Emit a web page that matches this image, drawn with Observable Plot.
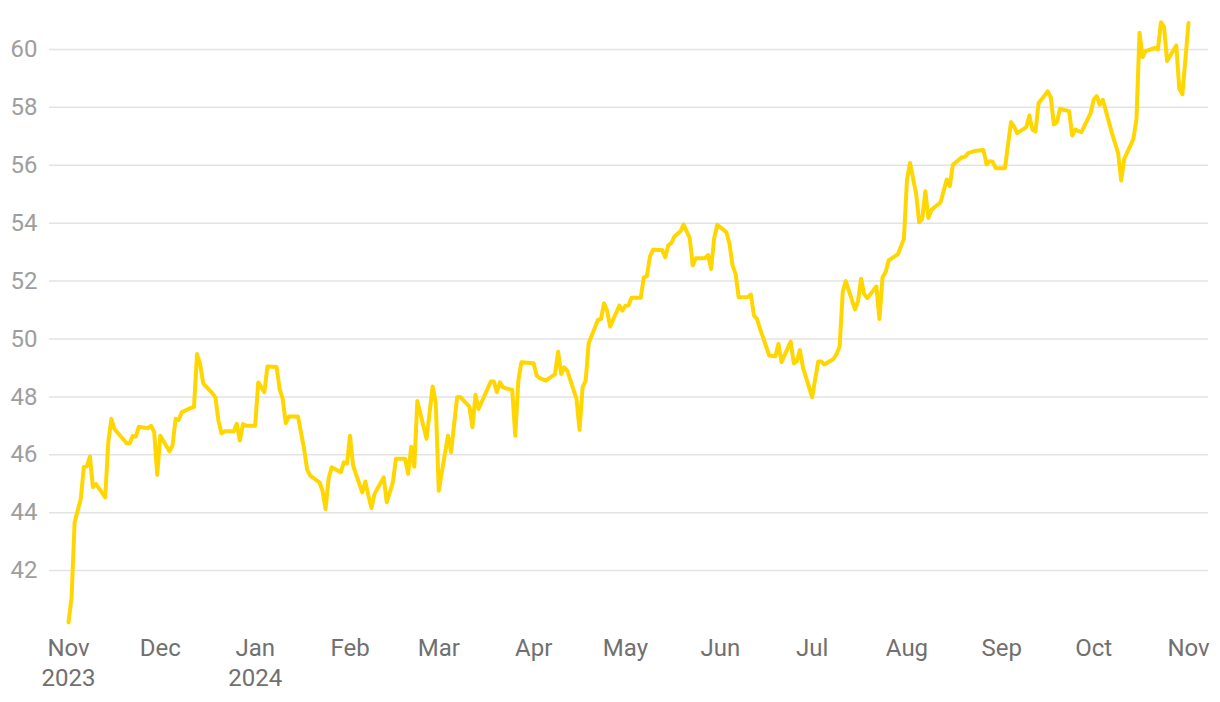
<!DOCTYPE html>
<html>
<head>
<meta charset="utf-8">
<script src="https://cdn.jsdelivr.net/npm/d3@7"></script>
<script src="https://cdn.jsdelivr.net/npm/@observablehq/plot@0.6"></script>
<style>
  html, body { margin: 0; padding: 0; background: #ffffff; }
  #chart { width: 1220px; height: 702px; }
</style>
</head>
<body>
<div id="chart"></div>
<script>
const dates = [
  "2023-11-01","2023-11-02","2023-11-03","2023-11-05","2023-11-06","2023-11-07","2023-11-08","2023-11-09","2023-11-10","2023-11-13",
  "2023-11-14","2023-11-15","2023-11-16","2023-11-20","2023-11-21","2023-11-22","2023-11-23","2023-11-24","2023-11-27","2023-11-28",
  "2023-11-29","2023-11-30","2023-12-01","2023-12-04","2023-12-05","2023-12-06","2023-12-07","2023-12-08","2023-12-11","2023-12-12",
  "2023-12-13","2023-12-14","2023-12-15","2023-12-18","2023-12-19","2023-12-20","2023-12-21","2023-12-22","2023-12-25","2023-12-26",
  "2023-12-27","2023-12-28","2023-12-29","2024-01-01","2024-01-02","2024-01-04","2024-01-05","2024-01-08","2024-01-09","2024-01-10",
  "2024-01-11","2024-01-12","2024-01-15","2024-01-17","2024-01-18","2024-01-19","2024-01-22","2024-01-23","2024-01-24","2024-01-25",
  "2024-01-26","2024-01-29","2024-01-30","2024-01-31","2024-02-01","2024-02-02","2024-02-05","2024-02-06","2024-02-07","2024-02-08",
  "2024-02-09","2024-02-12","2024-02-13","2024-02-15","2024-02-16","2024-02-19","2024-02-20","2024-02-21","2024-02-22","2024-02-23",
  "2024-02-26","2024-02-28","2024-02-29","2024-03-01","2024-03-04","2024-03-05","2024-03-07","2024-03-08","2024-03-11","2024-03-12",
  "2024-03-13","2024-03-14","2024-03-18","2024-03-19","2024-03-20","2024-03-21","2024-03-22","2024-03-25","2024-03-26","2024-03-27",
  "2024-03-28","2024-04-01","2024-04-02","2024-04-03","2024-04-05","2024-04-08","2024-04-09","2024-04-10","2024-04-11","2024-04-12",
  "2024-04-15","2024-04-16","2024-04-17","2024-04-18","2024-04-19","2024-04-20","2024-04-22","2024-04-23","2024-04-24","2024-04-25",
  "2024-04-26","2024-04-29","2024-04-30","2024-05-01","2024-05-02","2024-05-03","2024-05-06","2024-05-07","2024-05-08","2024-05-09",
  "2024-05-10","2024-05-13","2024-05-14","2024-05-15","2024-05-16","2024-05-17","2024-05-19","2024-05-20","2024-05-22","2024-05-23",
  "2024-05-24","2024-05-27","2024-05-28","2024-05-29","2024-05-30","2024-05-31","2024-06-03","2024-06-04","2024-06-05","2024-06-06",
  "2024-06-07","2024-06-10","2024-06-11","2024-06-12","2024-06-13","2024-06-14","2024-06-17","2024-06-19","2024-06-20","2024-06-21",
  "2024-06-24","2024-06-25","2024-06-26","2024-06-27","2024-06-28","2024-07-01","2024-07-03","2024-07-04","2024-07-05","2024-07-08",
  "2024-07-09","2024-07-10","2024-07-11","2024-07-12","2024-07-15","2024-07-16","2024-07-17","2024-07-18","2024-07-19","2024-07-22",
  "2024-07-23","2024-07-24","2024-07-25","2024-07-26","2024-07-29","2024-07-30","2024-07-31","2024-08-01","2024-08-02","2024-08-04",
  "2024-08-05","2024-08-06","2024-08-07","2024-08-08","2024-08-09","2024-08-12","2024-08-14","2024-08-15","2024-08-16","2024-08-19",
  "2024-08-20","2024-08-21","2024-08-23","2024-08-26","2024-08-27","2024-08-28","2024-08-29","2024-08-30","2024-09-02","2024-09-04",
  "2024-09-05","2024-09-06","2024-09-09","2024-09-10","2024-09-11","2024-09-12","2024-09-13","2024-09-16","2024-09-17","2024-09-18",
  "2024-09-19","2024-09-20","2024-09-23","2024-09-24","2024-09-25","2024-09-27","2024-09-30","2024-10-01","2024-10-02","2024-10-03",
  "2024-10-04","2024-10-07","2024-10-08","2024-10-09","2024-10-10","2024-10-11","2024-10-14","2024-10-15","2024-10-16","2024-10-17",
  "2024-10-18","2024-10-21","2024-10-22","2024-10-23","2024-10-24","2024-10-25","2024-10-28","2024-10-29","2024-10-30","2024-11-01"
];
const values = [
  40.21,41.07,43.67,44.47,45.57,45.60,45.94,44.88,44.99,44.53,
  46.43,47.24,46.89,46.40,46.40,46.65,46.63,46.97,46.92,47.00,
  46.78,45.31,46.66,46.12,46.32,47.24,47.20,47.47,47.62,47.65,
  49.48,49.14,48.47,48.13,47.99,47.18,46.74,46.81,46.81,47.07,
  46.49,47.06,47.00,47.00,48.50,48.16,49.05,49.03,48.27,47.93,
  47.09,47.32,47.32,46.20,45.48,45.28,45.05,44.76,44.13,45.17,
  45.57,45.40,45.74,45.70,46.66,45.63,44.70,45.08,44.59,44.16,
  44.65,45.22,44.36,45.05,45.86,45.86,45.34,46.28,45.59,47.86,
  46.55,48.36,47.81,44.76,46.66,46.09,47.99,48.00,47.66,46.95,
  48.07,47.58,48.53,48.53,48.16,48.50,48.33,48.24,46.66,48.56,
  49.20,49.16,48.73,48.65,48.56,48.79,49.56,48.79,49.02,48.91,
  47.93,46.86,48.33,48.56,49.86,50.12,50.66,50.69,51.23,50.98,
  50.43,51.15,50.98,51.15,51.16,51.42,51.42,52.13,52.16,52.85,
  53.08,53.07,52.82,53.23,53.31,53.54,53.72,53.95,53.49,52.54,
  52.79,52.79,52.90,52.42,53.49,53.94,53.69,53.29,52.54,52.25,
  51.44,51.45,51.53,50.81,50.69,50.35,49.43,49.40,49.83,49.20,
  49.91,49.16,49.23,49.62,49.02,47.99,49.22,49.22,49.12,49.31,
  49.48,49.74,51.62,52.00,51.02,51.30,52.08,51.56,51.41,51.81,
  50.69,52.13,52.30,52.71,52.92,53.19,53.46,55.50,56.08,55.01,
  54.03,54.15,55.10,54.18,54.46,54.72,55.51,55.28,56.02,56.28,
  56.29,56.42,56.49,56.53,56.03,56.14,56.12,55.90,55.90,57.49,
  57.34,57.11,57.32,57.72,57.23,57.17,58.14,58.55,58.35,57.41,
  57.49,57.95,57.87,57.03,57.23,57.14,57.80,58.26,58.39,58.09,
  58.26,57.11,56.76,56.42,55.47,56.22,56.91,57.60,60.58,59.74,
  59.94,60.05,60.00,60.94,60.79,59.60,60.14,58.64,58.45,60.91
];
const xTicks = ["2023-11-01","2023-12-01","2024-01-01","2024-02-01","2024-03-01","2024-04-01","2024-05-01",
  "2024-06-01","2024-07-01","2024-08-01","2024-09-01","2024-10-01","2024-11-01"];
const xTickLabels = ["Nov\n2023","Dec","Jan\n2024","Feb","Mar","Apr","May","Jun","Jul","Aug","Sep","Oct","Nov"];
const yTicks = [42,44,46,48,50,52,54,56,58,60];

const parse = d3.utcParse("%Y-%m-%d");
const data = dates.map((d, i) => ({date: parse(d), value: values[i]}));
const tickDates = xTicks.map(parse);
const labelByTime = new Map(tickDates.map((d, i) => [+d, xTickLabels[i]]));

const chart = Plot.plot({
  width: 1220,
  height: 702,
  marginLeft: 49,
  marginRight: 12,
  marginTop: 20,
  marginBottom: 74,
  insetLeft: 19,
  insetRight: 20,
  style: {fontFamily: "Roboto, sans-serif", background: "#ffffff"},
  x: {type: "utc", domain: [tickDates[0], tickDates[tickDates.length - 1]]},
  y: {domain: [40, 61]},
  marks: [
    Plot.gridY(yTicks, {stroke: "#e3e3e3", strokeOpacity: 1, strokeWidth: 1.5}),
    Plot.axisY(yTicks, {tickSize: 0, tickPadding: 12, fontSize: 24, fill: "#9e9e9e", label: null}),
    Plot.axisX(tickDates, {tickSize: 0, tickPadding: 6, fontSize: 24, fill: "#707070", lineHeight: 1.25,
      tickFormat: d => labelByTime.get(+d), label: null}),
    Plot.lineY(data, {x: "date", y: "value", stroke: "#FFD600", strokeWidth: 4, strokeLinejoin: "round"})
  ]
});
document.getElementById("chart").appendChild(chart);
</script>
</body>
</html>
